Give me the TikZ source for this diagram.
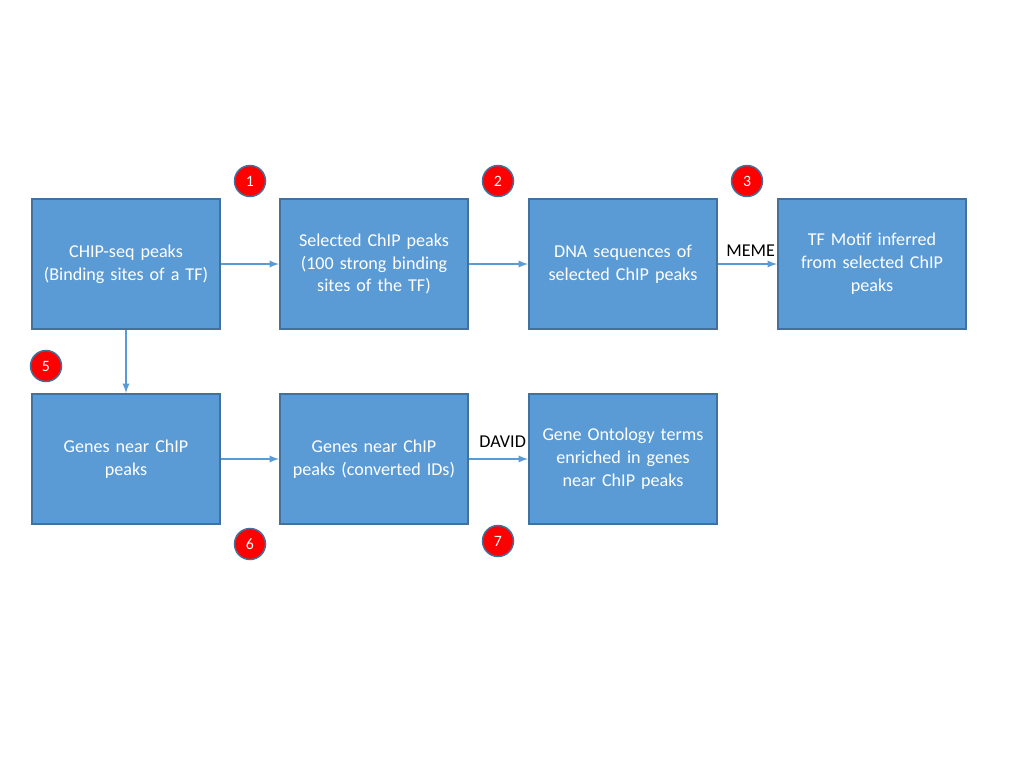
\documentclass[tikz,border=0pt]{standalone}
\usepackage{fontspec}
\setmainfont{Carlito}
\usepackage{tikz}
\definecolor{boxblue}{HTML}{5B9BD5}
\definecolor{boxedge}{HTML}{41719C}
\begin{document}
\begin{tikzpicture}[x=0.02cm, y=-0.02cm,
			mybox/.style={draw=boxedge, fill=boxblue, text=white, text width=3.6cm, align=center, minimum width=3.76cm, minimum height=2.6cm, line width=0.4mm, inner sep=0pt, font=\fontsize{10.3}{13}\selectfont},
			mynum/.style={draw=boxedge, fill=red, text=white, circle, minimum width=0.62cm, inner sep=0pt, line width=0.3mm, font=\fontsize{9}{11}\selectfont},
			myarrow/.style={->, >=latex, draw=boxblue, line width=0.3mm}
		]

		\useasboundingbox (0,0) rectangle (1024,768);

		\node[mybox] (chip) at (126,264) {CHIP-seq peaks \\ (Binding sites of a TF)};
		\node[mybox] (selected) at (374,264) {Selected ChIP peaks \\ (100 strong binding \\ sites of the TF)};
		\node[mybox] (dnaseq) at (623,264) {DNA sequences of \\ selected ChIP peaks};
		\node[mybox] (motif) at (872,264) {TF Motif inferred \\ from selected ChIP \\ peaks};

		\node[mybox] (genes) at (126,459) {Genes near ChIP \\ peaks};
		\node[mybox] (converted) at (374,459) {Genes near ChIP \\ peaks (converted IDs)};
		\node[mybox] (goterms) at (623,459) {Gene Ontology terms \\ enriched in genes \\ near ChIP peaks};

		\draw[myarrow] (chip) -- (selected);
		\draw[myarrow] (selected) -- (dnaseq);
		\draw[myarrow] (dnaseq) -- (motif);
		\draw[myarrow] (chip) -- (genes);
		\draw[myarrow] (genes) -- (converted);
		\draw[myarrow] (converted) -- (goterms);

		\node[anchor=south east, inner sep=1pt, font=\fontsize{10.3}{13}\selectfont] (meme) at (motif.west |- 0,259) {MEME};
		\node[anchor=south east, inner sep=1pt, font=\fontsize{10.3}{13}\selectfont] (david) at (goterms.west |- 0,450) {DAVID};

		\node[mynum] (n1) at (250,181) {1};
		\node[mynum] (n2) at (498,181) {2};
		\node[mynum] (n3) at (747,181) {3};
		\node[mynum] (n5) at (46,366) {5};
		\node[mynum] (n6) at (250,544) {6};
		\node[mynum] (n7) at (498,541) {7};

	\end{tikzpicture}
\end{document}
